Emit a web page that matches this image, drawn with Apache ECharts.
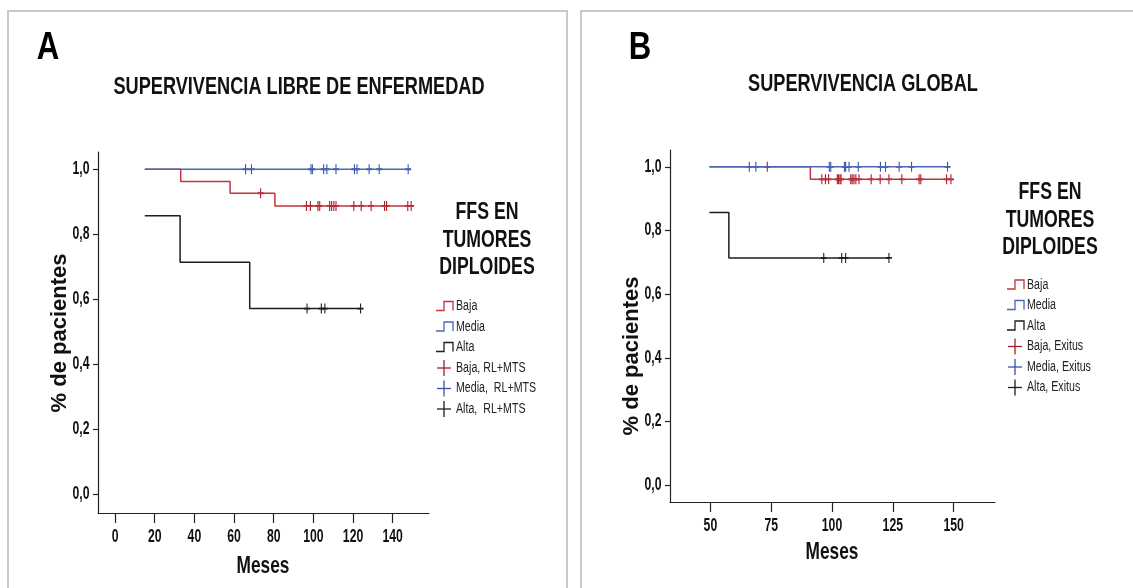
<!DOCTYPE html>
<html>
<head>
<meta charset="utf-8">
<script src="https://cdn.jsdelivr.net/npm/echarts@6/dist/echarts.min.js"></script>
<style>
  html, body { margin: 0; padding: 0; background: #fff; }
  #chart { width: 1133px; height: 588px; }
</style>
</head>
<body>
<div id="chart"></div>
<script>
// ---- Panel A: supervivencia libre de enfermedad (months, fraction) ----
const dfsBaja  = [[15, 1], [33.1, 0.962], [58, 0.926], [80.6, 0.887], [150.2, 0.887]];
const dfsMedia = [[15, 1], [147.8, 1]];
const dfsAlta  = [[15, 0.857], [32.8, 0.714], [67.9, 0.571], [123.8, 0.571]];
const dfsCensBaja = [[73.4, 0.926], [96.5, 0.887], [98.5, 0.887], [102.3, 0.887], [103.2, 0.887],
  [108.2, 0.887], [109.2, 0.887], [110.3, 0.887], [111.4, 0.887], [120.4, 0.887], [124.1, 0.887],
  [129.1, 0.887], [135.9, 0.887], [136.9, 0.887], [147.6, 0.887], [149.3, 0.887]];
const dfsCensMedia = [[65.8, 1], [68.8, 1], [98.8, 1], [99.5, 1], [105.2, 1], [106.8, 1], [111.4, 1],
  [120.7, 1], [122, 1], [128.1, 1], [133.2, 1], [147.8, 1]];
const dfsCensAlta = [[96.8, 0.571], [104, 0.571], [105.8, 0.571], [123.8, 0.571]];

// ---- Panel B: supervivencia global ----
const osBaja  = [[49.6, 1], [91.1, 0.961], [149.7, 0.961]];
const osMedia = [[49.6, 1], [147.5, 1]];
const osAlta  = [[49.6, 0.857], [57.6, 0.714], [123.4, 0.714]];
const osCensBaja = [[73.4, 1], [95.8, 0.961], [97.3, 0.961], [98.6, 0.961], [102.2, 0.961], [102.7, 0.961],
  [103.3, 0.961], [103.7, 0.961], [107.7, 0.961], [108.3, 0.961], [109.0, 0.961], [109.8, 0.961],
  [111.1, 0.961], [116.1, 0.961], [119.8, 0.961], [123.4, 0.961], [128.7, 0.961], [135.8, 0.961],
  [136.5, 0.961], [147.1, 0.961], [148.9, 0.961]];
const osCensMedia = [[66.0, 1], [68.7, 1], [98.9, 1], [99.5, 1], [105.1, 1], [105.6, 1], [107.0, 1],
  [110.8, 1], [119.9, 1], [122.0, 1], [127.6, 1], [132.7, 1], [147.5, 1]];
const osCensAlta = [[96.6, 0.714], [104, 0.714], [105.6, 0.714], [123.4, 0.714]];

// ---- Tick values and labels ----
const yTicks  = [0, 0.2, 0.4, 0.6, 0.8, 1.0];
const xTicksA = [0, 20, 40, 60, 80, 100, 120, 140];
const xTicksB = [50, 75, 100, 125, 150];
const groups  = ['Baja', 'Media', 'Alta'];
const legendA = ['Baja', 'Media', 'Alta', 'Baja, RL+MTS', 'Media,  RL+MTS', 'Alta,  RL+MTS'];
const legendB = ['Baja', 'Media', 'Alta', 'Baja, Exitus', 'Media, Exitus', 'Alta, Exitus'];

const SANS = "'Liberation Sans',Arial,sans-serif";
const lineColors = ['#c0353d', '#4a67b5', '#1e1e1e'];
const markColors = ['#a51e2a', '#3556a8', '#1e1e1e'];
const CROSS = 'path://M5 0L5 10M0 5L10 5';

// condensed text: a regular face squeezed horizontally
function ctext(x, y, str, size, weight, squeeze, align, color) {
  return { type: 'text', x: x, y: y, scaleX: squeeze, silent: true,
    style: { text: str, fill: color || '#111', font: weight + ' ' + size + 'px ' + SANS,
      align: align || 'center', verticalAlign: 'middle' } };
}

function stepLine(name, data, idx, color) {
  return {
    type: 'line', name: name, data: data, step: 'end',
    xAxisIndex: idx, yAxisIndex: idx, showSymbol: false, silent: true,
    lineStyle: { color: color, width: 1.5 }, animation: false
  };
}
function censorMarks(name, data, idx, color) {
  return {
    type: 'scatter', name: name, data: data, xAxisIndex: idx, yAxisIndex: idx,
    symbol: CROSS, symbolSize: [6, 10], silent: true, animation: false,
    itemStyle: { color: 'rgba(0,0,0,0)', borderColor: color, borderWidth: 1.4, opacity: 1 }
  };
}
function xAxisCfg(idx, min, max, ticks) {
  return {
    type: 'value', gridIndex: idx, min: min, max: max,
    axisLine: { show: true, onZero: false, lineStyle: { color: '#222', width: 1.2 } },
    axisTick: { show: true, length: 10, customValues: ticks, lineStyle: { color: '#222', width: 1.2 } },
    axisLabel: { show: false },
    splitLine: { show: false }
  };
}
function yAxisCfg(idx, min, max) {
  return {
    type: 'value', gridIndex: idx, min: min, max: max,
    axisLine: { show: true, onZero: false, lineStyle: { color: '#222', width: 1.2 } },
    axisTick: { show: true, length: 5, customValues: yTicks, lineStyle: { color: '#222', width: 1.2 } },
    axisLabel: { show: false },
    splitLine: { show: false }
  };
}

// Legend block: title on three lines, step icons for curves, crosses for censored cases
function legendGraphics(cx, titleY, iconX, textX, rowY, labels) {
  const els = [];
  ['FFS EN', 'TUMORES', 'DIPLOIDES'].forEach((t, i) => {
    els.push(ctext(cx, titleY + i * 27.5, t, 23, 'bold', 0.77));
  });
  labels.forEach((lab, i) => {
    const y = rowY + i * 20.5;
    const c = i < 3 ? lineColors[i] : markColors[i - 3];
    if (i < 3) {
      els.push({ type: 'polyline', silent: true,
        shape: { points: [[iconX, y + 4], [iconX + 8, y + 4], [iconX + 8, y - 5], [iconX + 17, y - 5], [iconX + 17, y + 4]] },
        style: { stroke: c, lineWidth: 1.3, fill: null } });
    } else {
      const mx = iconX + 8;
      els.push({ type: 'polyline', silent: true, shape: { points: [[mx - 7, y], [mx + 7, y]] },
        style: { stroke: c, lineWidth: 1.3, fill: null } });
      els.push({ type: 'polyline', silent: true, shape: { points: [[mx, y - 8], [mx, y + 8]] },
        style: { stroke: c, lineWidth: 1.3, fill: null } });
    }
    els.push(ctext(textX, y, lab, 14, 'normal', 0.76, 'left', '#222'));
  });
  return els;
}

const series = [];
[dfsBaja, dfsMedia, dfsAlta].forEach((d, i) => series.push(stepLine(groups[i], d, 0, lineColors[i])));
[dfsCensBaja, dfsCensMedia, dfsCensAlta].forEach((d, i) => series.push(censorMarks(legendA[i + 3], d, 0, markColors[i])));
[osBaja, osMedia, osAlta].forEach((d, i) => series.push(stepLine(groups[i] + ' (B)', d, 1, lineColors[i])));
[osCensBaja, osCensMedia, osCensAlta].forEach((d, i) => series.push(censorMarks(legendB[i + 3], d, 1, markColors[i])));

const staticGraphics = [
  { type: 'rect', shape: { x: 8, y: 11, width: 559, height: 600 }, silent: true,
    style: { fill: null, stroke: '#c8c8c8', lineWidth: 2 } },
  { type: 'rect', shape: { x: 581, y: 11, width: 600, height: 600 }, silent: true,
    style: { fill: null, stroke: '#c8c8c8', lineWidth: 2 } },
  ctext(48, 49, 'A', 38, 'bold', 0.82, 'center', '#000'),
  ctext(640, 49, 'B', 38, 'bold', 0.82, 'center', '#000'),
  ctext(299, 88, 'SUPERVIVENCIA LIBRE DE ENFERMEDAD', 23, 'bold', 0.79),
  ctext(863, 85, 'SUPERVIVENCIA GLOBAL', 23, 'bold', 0.79),
  ctext(263, 566, 'Meses', 24, 'bold', 0.72),
  ctext(832, 552, 'Meses', 24, 'bold', 0.72),
  { type: 'text', x: 60, y: 333, rotation: Math.PI / 2, silent: true,
    style: { text: '% de pacientes', fill: '#111', font: 'bold 22px ' + SANS, align: 'center', verticalAlign: 'middle' } },
  { type: 'text', x: 632, y: 356, rotation: Math.PI / 2, silent: true,
    style: { text: '% de pacientes', fill: '#111', font: 'bold 22px ' + SANS, align: 'center', verticalAlign: 'middle' } }
].concat(legendGraphics(487, 213, 436, 456, 306.5, legendA))
 .concat(legendGraphics(1050, 193, 1007, 1027, 285, legendB));

const chart = echarts.init(document.getElementById('chart'), null, { renderer: 'canvas' });
const yRange = [[-0.058, 1.053], [-0.053, 1.053]];
const xRange = [[-8.6, 158.3], [33.4, 167]];
chart.setOption({
  backgroundColor: '#fff',
  animation: false,
  grid: [
    { left: 98, top: 152, width: 331, height: 361 },
    { left: 670, top: 150, width: 325, height: 352 }
  ],
  xAxis: [xAxisCfg(0, xRange[0][0], xRange[0][1], xTicksA), xAxisCfg(1, xRange[1][0], xRange[1][1], xTicksB)],
  yAxis: [yAxisCfg(0, yRange[0][0], yRange[0][1]), yAxisCfg(1, yRange[1][0], yRange[1][1])],
  series: series,
  graphic: staticGraphics
});

// Tick labels in the condensed face, placed through each axis scale
const tickLabels = [];
[xTicksA, xTicksB].forEach((ticks, i) => {
  const axisY = chart.convertToPixel({ yAxisIndex: i }, yRange[i][0]);
  ticks.forEach(v => {
    const px = chart.convertToPixel({ xAxisIndex: i }, v);
    tickLabels.push(ctext(px, axisY + 24, String(v), 18, 'bold', 0.68));
  });
});
[0, 1].forEach(i => {
  const axisX = chart.convertToPixel({ xAxisIndex: i }, xRange[i][0]);
  yTicks.forEach(v => {
    const py = chart.convertToPixel({ yAxisIndex: i }, v);
    tickLabels.push(ctext(axisX - 8.5, py, v.toFixed(1).replace('.', ','), 18, 'bold', 0.68, 'right'));
  });
});
chart.setOption({ graphic: staticGraphics.concat(tickLabels) });
</script>
</body>
</html>
